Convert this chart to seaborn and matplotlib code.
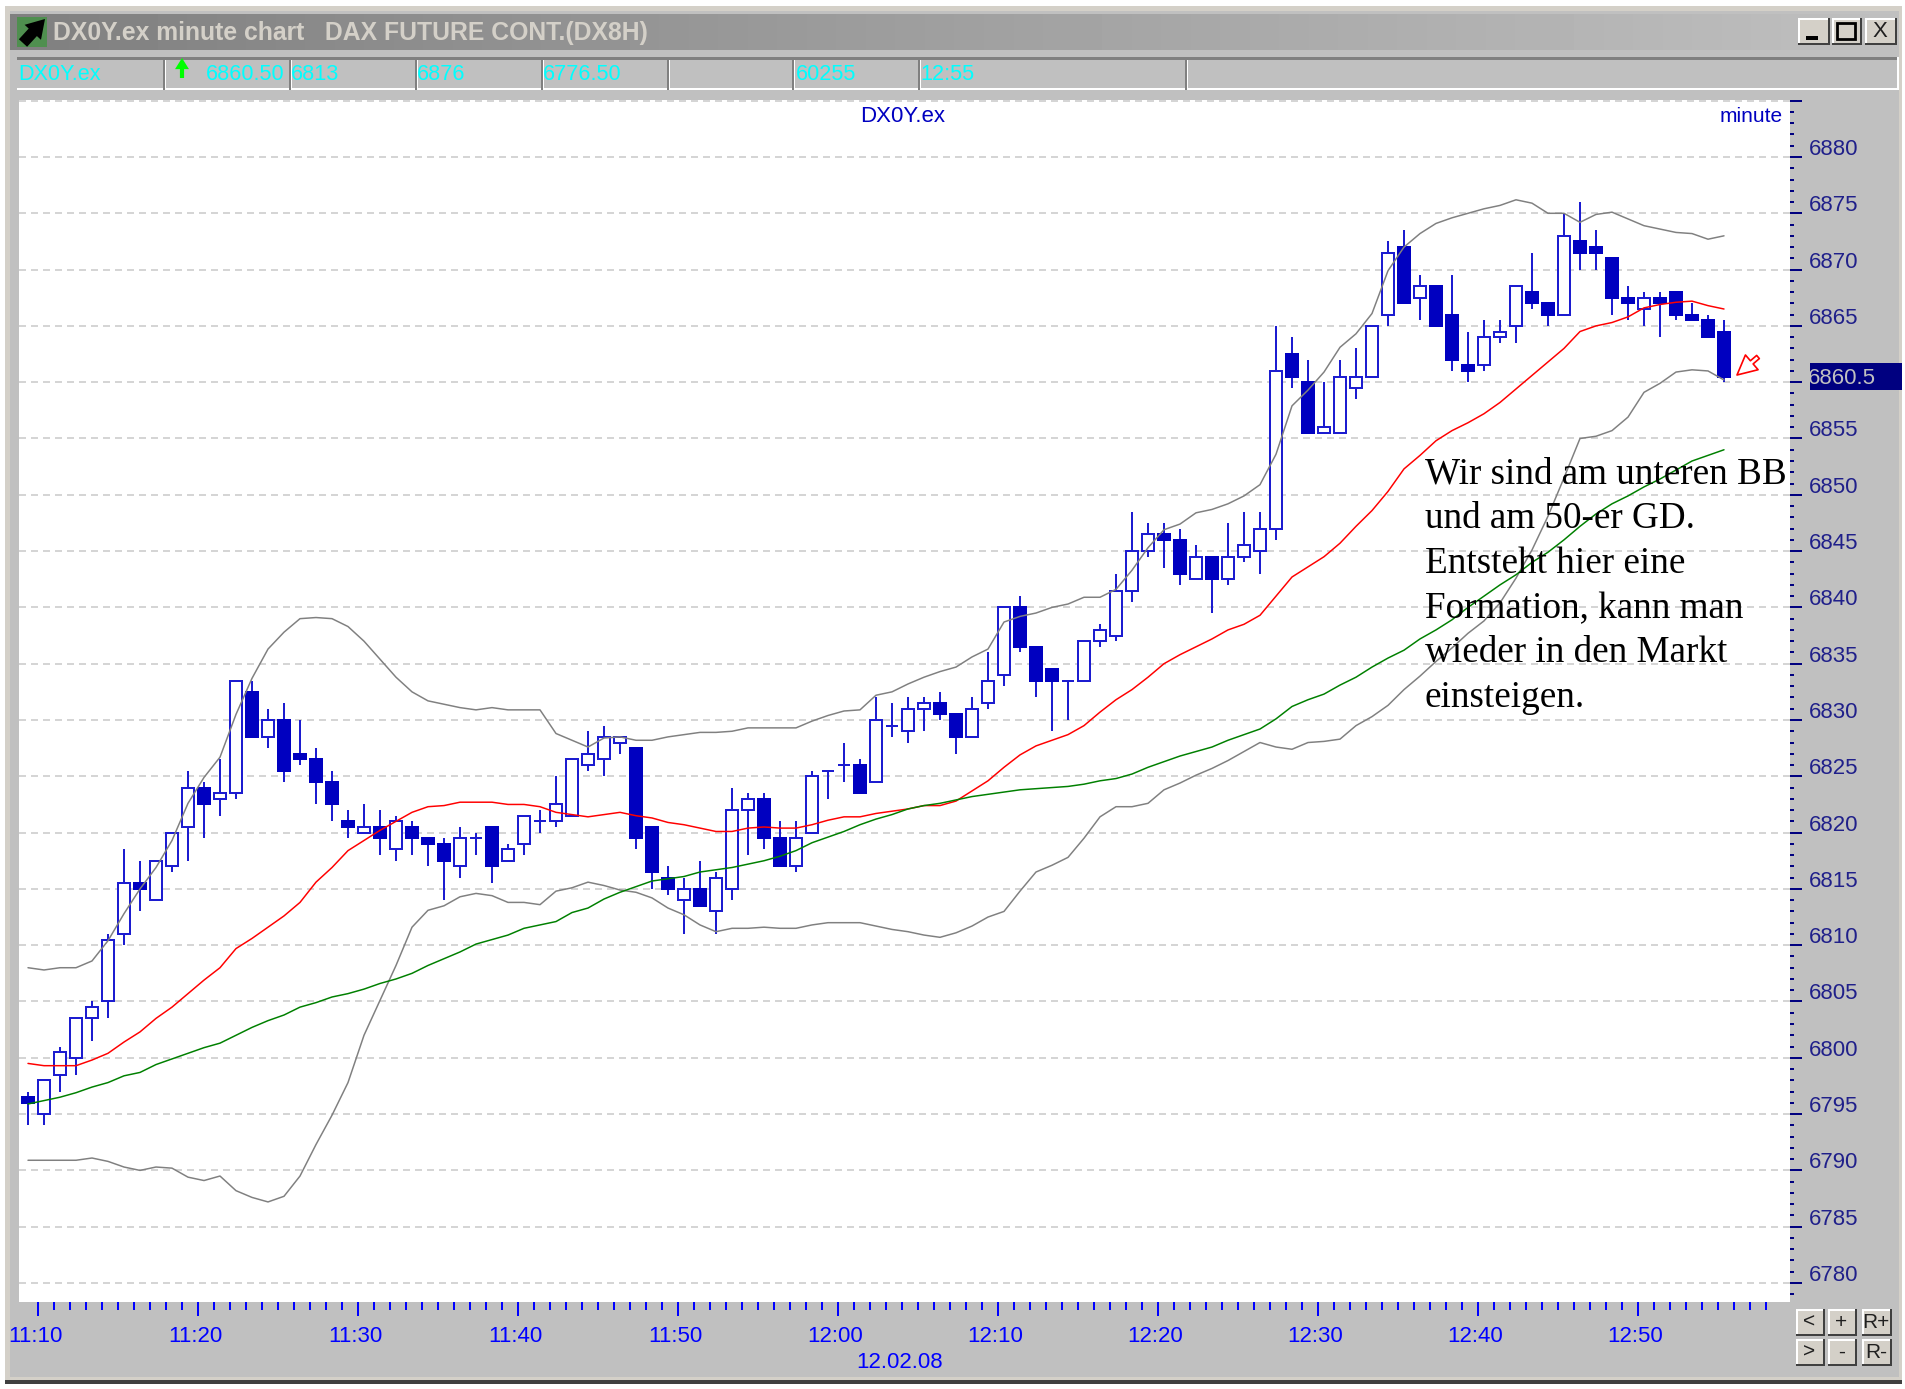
import numpy as np
import pandas as pd
import seaborn as sns
import matplotlib.pyplot as plt
from matplotlib.patches import Rectangle, FancyArrowPatch
from matplotlib.transforms import ScaledTranslation

# ==== candles (one per minute) ====
opens = [
    6796.5, 6795, 6798.5, 6800, 6803.5, 6805, 6811, 6815.5, 6814, 6817,
    6820.5, 6824, 6823, 6823.5, 6832.5, 6828.5, 6830, 6827, 6826.5, 6824.5,
    6821, 6820, 6820.5, 6818.5, 6820.5, 6819.5, 6819, 6817, 6819.5, 6820.5,
    6817.5, 6819, 6821, 6821, 6821.5, 6826, 6826.5, 6828, 6827.5, 6820.5,
    6816, 6814, 6815, 6813, 6815, 6822, 6823, 6819.5, 6817, 6820,
    6825.5, 6826, 6826, 6824.5, 6829.5, 6829, 6831, 6831.5, 6830.5, 6828.5,
    6831.5, 6834, 6840, 6836.5, 6834.5, 6833.5, 6833.5, 6837, 6837.5, 6841.5,
    6845, 6846.5, 6846, 6842.5, 6844.5, 6842.5, 6844.5, 6845, 6847, 6862.5,
    6860, 6855.5, 6855.5, 6859.5, 6860.5, 6866, 6872, 6867.5, 6868.5, 6866,
    6861.5, 6861.5, 6864, 6865, 6868, 6867, 6866, 6872.5, 6872, 6871,
    6867.5, 6866.5, 6867.5, 6868, 6866, 6865.5, 6864.5,
]
highs = [
    6797, 6798, 6801, 6803.5, 6805, 6811, 6818.5, 6817.5, 6817.5, 6820,
    6825.5, 6824.5, 6826.5, 6833.5, 6833.5, 6831, 6831.5, 6830, 6827.5, 6825.5,
    6822, 6822.5, 6822, 6821.5, 6821, 6819.5, 6819.5, 6820.5, 6820, 6820.5,
    6819, 6821.5, 6822, 6825, 6826.5, 6829, 6829.5, 6828.5, 6827.5, 6820.5,
    6817, 6816, 6817.5, 6816.5, 6824, 6823.5, 6823.5, 6821, 6821, 6825.5,
    6825.5, 6828, 6826.5, 6832, 6831.5, 6832, 6832, 6832.5, 6830.5, 6832,
    6836, 6840, 6841, 6836.5, 6834.5, 6833.5, 6837, 6838.5, 6843, 6848.5,
    6847.5, 6847.5, 6847, 6845.5, 6844.5, 6847.5, 6848.5, 6848.5, 6865, 6864,
    6862, 6860, 6862, 6863, 6865, 6872.5, 6873.5, 6869.5, 6868.5, 6869.5,
    6864.5, 6865.5, 6865.5, 6868.5, 6871.5, 6867, 6875, 6876, 6873.5, 6871,
    6868.5, 6868, 6868, 6868, 6867, 6866, 6865.5,
]
lows = [
    6794, 6794, 6797, 6798.5, 6801.5, 6803.5, 6810, 6813, 6814, 6816.5,
    6817.5, 6819.5, 6821.5, 6823, 6828.5, 6827.5, 6824.5, 6826, 6822.5, 6821,
    6819.5, 6820, 6818, 6817.5, 6818, 6817, 6814, 6816, 6818, 6815.5,
    6817.5, 6818, 6820, 6820.5, 6821.5, 6825.5, 6825, 6827, 6818.5, 6815,
    6814.5, 6811, 6813.5, 6811, 6814, 6818, 6818.5, 6817, 6816.5, 6820,
    6823, 6824.5, 6823.5, 6824.5, 6828.5, 6828, 6829, 6830, 6827, 6828.5,
    6831, 6833, 6836, 6832, 6829, 6830, 6833.5, 6836.5, 6837, 6840.5,
    6844.5, 6843.5, 6842, 6842.5, 6839.5, 6842, 6844, 6843, 6846, 6859.5,
    6855.5, 6855.5, 6855.5, 6858.5, 6860.5, 6865, 6867, 6865.5, 6865, 6861,
    6860, 6861, 6863.5, 6863.5, 6866.5, 6865, 6866, 6870, 6870, 6866,
    6865.5, 6865, 6864, 6865.5, 6865.5, 6864, 6860,
]
closes = [
    6796, 6798, 6800.5, 6803.5, 6804.5, 6810.5, 6815.5, 6815, 6817.5, 6820,
    6824, 6822.5, 6823.5, 6833.5, 6828.5, 6830, 6825.5, 6826.5, 6824.5, 6822.5,
    6820.5, 6820.5, 6819.5, 6821, 6819.5, 6819, 6817.5, 6819.5, 6819.5, 6817,
    6818.5, 6821.5, 6821, 6822.5, 6826.5, 6827, 6828.5, 6828.5, 6819.5, 6816.5,
    6815, 6815, 6813.5, 6816, 6822, 6823, 6819.5, 6817, 6819.5, 6825,
    6825.5, 6826, 6823.5, 6830, 6829.5, 6831, 6831.5, 6830.5, 6828.5, 6831,
    6833.5, 6840, 6836.5, 6833.5, 6833.5, 6833.5, 6837, 6838, 6841.5, 6845,
    6846.5, 6846, 6843, 6844.5, 6842.5, 6844.5, 6845.5, 6847, 6861, 6860.5,
    6855.5, 6856, 6860.5, 6860.5, 6865, 6871.5, 6867, 6868.5, 6865, 6862,
    6861, 6864, 6864.5, 6868.5, 6867, 6866, 6873, 6871.5, 6871.5, 6867.5,
    6867, 6867.5, 6867, 6866, 6865.5, 6864, 6860.5,
]

# ==== indicator lines ====
ma_red = [
    6799.5, 6799.3, 6799.3, 6799.3, 6799.8, 6800.4, 6801.4, 6802.3, 6803.5, 6804.5,
    6805.7, 6806.9, 6808, 6809.7, 6810.6, 6811.6, 6812.6, 6813.8, 6815.6, 6816.9,
    6818.4, 6819.3, 6820.2, 6821, 6821.8, 6822.3, 6822.4, 6822.7, 6822.7, 6822.7,
    6822.5, 6822.5, 6822.3, 6821.8, 6821.6, 6821.4, 6821.6, 6821.8, 6821.5, 6821.3,
    6820.9, 6820.7, 6820.4, 6820.1, 6820.1, 6820.4, 6820.5, 6820.4, 6820.4, 6820.7,
    6821.1, 6821.4, 6821.4, 6821.7, 6821.9, 6822.1, 6822.4, 6822.4, 6822.8, 6823.7,
    6824.6, 6825.8, 6826.9, 6827.7, 6828.2, 6828.7, 6829.5, 6830.7, 6831.8, 6832.7,
    6833.8, 6835, 6835.8, 6836.5, 6837.2, 6838, 6838.5, 6839.3, 6841, 6842.7,
    6843.6, 6844.5, 6845.7, 6847.2, 6848.6, 6850.3, 6852.3, 6853.5, 6854.8, 6855.7,
    6856.4, 6857.2, 6858.2, 6859.4, 6860.6, 6861.8, 6863, 6864.5, 6865, 6865.3,
    6865.8, 6866.6, 6866.9, 6867.1, 6867.2, 6866.8, 6866.5,
]
ma_green = [
    6795.9, 6796.2, 6796.5, 6796.9, 6797.4, 6797.8, 6798.4, 6798.7, 6799.4, 6799.9,
    6800.4, 6800.9, 6801.3, 6802, 6802.7, 6803.3, 6803.8, 6804.5, 6804.9, 6805.4,
    6805.7, 6806.1, 6806.6, 6807, 6807.5, 6808.2, 6808.8, 6809.4, 6810.1, 6810.5,
    6810.9, 6811.5, 6811.8, 6812.1, 6812.9, 6813.3, 6814.1, 6814.7, 6815.2, 6815.7,
    6815.9, 6816.1, 6816.5, 6816.7, 6816.9, 6817.2, 6817.5, 6817.9, 6818.4, 6819.1,
    6819.6, 6820.1, 6820.7, 6821.2, 6821.6, 6822.1, 6822.4, 6822.6, 6822.9, 6823.2,
    6823.4, 6823.6, 6823.8, 6823.9, 6824, 6824.1, 6824.3, 6824.6, 6824.8, 6825.2,
    6825.8, 6826.3, 6826.8, 6827.2, 6827.6, 6828.2, 6828.7, 6829.2, 6830.1, 6831.2,
    6831.8, 6832.3, 6833.1, 6833.8, 6834.7, 6835.5, 6836.2, 6837.2, 6838, 6838.9,
    6840, 6841, 6842, 6842.9, 6844, 6844.9, 6846, 6847.2, 6848.3, 6849.2,
    6849.9, 6850.7, 6851.4, 6852.2, 6853, 6853.5, 6854,
]
bb_upper = [
    6808, 6807.8, 6808, 6808, 6808.6, 6810.4, 6812.8, 6815, 6816.9, 6819.3,
    6822.6, 6824.9, 6826.7, 6830.5, 6833.7, 6836.3, 6837.8, 6839, 6839.1, 6839,
    6838.3, 6837, 6835.4, 6833.8, 6832.5, 6831.7, 6831.4, 6831.1, 6830.9, 6831.1,
    6830.9, 6830.9, 6830.9, 6828.8, 6828.2, 6827.6, 6828.4, 6828.5, 6828.2, 6828.2,
    6828.5, 6828.7, 6828.9, 6828.9, 6829, 6829.3, 6829.3, 6829.3, 6829.3, 6829.9,
    6830.4, 6830.8, 6830.9, 6832.2, 6832.5, 6833.2, 6833.8, 6834.3, 6834.7, 6835.6,
    6836.3, 6838.7, 6839.2, 6839.5, 6840, 6840.3, 6840.9, 6840.9, 6841.6, 6843.3,
    6845.3, 6846.9, 6847.4, 6848.4, 6848.7, 6849.2, 6849.9, 6850.9, 6853.6, 6857.9,
    6859.3, 6860.9, 6863.1, 6864.3, 6866.1, 6869.9, 6872, 6873.2, 6874.1, 6874.6,
    6875, 6875.4, 6875.7, 6876.2, 6875.9, 6875, 6875, 6874.2, 6874.9, 6875.1,
    6874.5, 6873.9, 6873.6, 6873.3, 6873.2, 6872.7, 6873,
]
bb_lower = [
    6790.9, 6790.9, 6790.9, 6790.9, 6791.1, 6790.8, 6790.3, 6790, 6790.3, 6790.2,
    6789.4, 6789.1, 6789.5, 6788.2, 6787.6, 6787.2, 6787.7, 6789.5, 6792.3, 6794.9,
    6797.8, 6802, 6805.1, 6808.2, 6811.6, 6813.1, 6813.5, 6814.3, 6814.6, 6814.4,
    6813.8, 6813.8, 6813.6, 6814.8, 6815.1, 6815.6, 6815.3, 6814.9, 6814.7, 6814.2,
    6813.3, 6812.7, 6811.8, 6811.2, 6811.5, 6811.5, 6811.6, 6811.5, 6811.5, 6811.8,
    6812, 6812, 6812, 6811.7, 6811.4, 6811.2, 6810.9, 6810.7, 6811.1, 6811.7,
    6812.5, 6813, 6814.8, 6816.5, 6817.1, 6817.8, 6819.5, 6821.4, 6822.3, 6822.3,
    6822.6, 6823.8, 6824.4, 6825.1, 6825.7, 6826.4, 6827.2, 6828, 6827.6, 6827.4,
    6828, 6828.1, 6828.3, 6829.5, 6830.3, 6831.3, 6832.7, 6833.9, 6835.2, 6836.4,
    6837.7, 6838.8, 6840.4, 6842.6, 6845.1, 6848.1, 6851.5, 6855, 6855.2, 6855.7,
    6856.9, 6859.1, 6859.9, 6860.9, 6861.1, 6861, 6860.2,
]

# ==== axis labels and texts ====
price_ticks = [6780, 6785, 6790, 6795, 6800, 6805, 6810, 6815, 6820, 6825, 6830,
               6835, 6840, 6845, 6850, 6855, 6860, 6865, 6870, 6875, 6880, 6885]
# 6860 sits under the last-price box and 6885 has no label in the program
price_labels = ["" if p in (6860, 6885) else str(p) for p in price_ticks]
time_labels = ["11:10", "11:20", "11:30", "11:40", "11:50", "12:00",
               "12:10", "12:20", "12:30", "12:40", "12:50"]
note_lines = ["Wir sind am unteren BB", "und am 50-er GD.", "Entsteht hier eine",
              "Formation, kann man", "wieder in den Markt", "einsteigen."]
title_text = "DX0Y.ex minute chart   DAX FUTURE CONT.(DX8H)"
status_cells = [("DX0Y.ex", 18), ("6860.50", 206), ("6813", 291), ("6876", 417),
                ("6776.50", 543), ("60255", 796), ("12:55", 920)]

W, H = 1905, 1389
LEFT, RIGHT, TOP, BOTTOM = 19, 1790, 100, 1302
GREY, FACE = "#C0C0C0", "#D4D0C8"
BODY = "#0000C0"
EDGE = "#1C1CD0"
PX = 0.72  # points per pixel at dpi 100

sns.set_theme(style="white")
plt.rcParams["font.family"] = ["Liberation Sans", "DejaVu Sans"]
plt.rcParams["lines.scale_dashes"] = False

df = pd.DataFrame({"minute": np.arange(len(opens)), "open": opens, "high": highs, "low": lows,
                   "close": closes, "ma_red": ma_red, "ma_green": ma_green,
                   "bb_upper": bb_upper, "bb_lower": bb_lower})
df["up"] = df["close"] >= df["open"]

fig = plt.figure(figsize=(W / 100, H / 100), dpi=100, facecolor="white")


def px_axes(zorder):
    a = fig.add_axes([0, 0, 1, 1], zorder=zorder)
    a.set_xlim(0, W)
    a.set_ylim(H, 0)
    a.axis("off")
    return a


def box(a, x0, y0, x1, y1, color, z=1, **kw):
    a.add_patch(Rectangle((x0, y0), x1 - x0, y1 - y0, facecolor=color, edgecolor="none", zorder=z, **kw))


def button(a, x0, y0, x1, y1, label=None, size=13):
    box(a, x0, y0, x1, y1, "#404040", z=5)
    box(a, x0, y0, x1 - 2, y1 - 2, "white", z=5)
    box(a, x0 + 2, y0 + 2, x1 - 2, y1 - 2, FACE, z=5)
    if label:
        a.text((x0 + x1) / 2 - 1, (y0 + y1) / 2, label, fontsize=size, ha="center", va="center",
               color="#202020", zorder=6)


# ==== window chrome ====
bg = px_axes(0)
box(bg, 5, 6, 1902, 1381, FACE)
box(bg, 5, 1380, 1902, 1384, "#404040")
box(bg, 10, 11, 1899, 1377, GREY)
bg.imshow(np.linspace(0.50, 0.75, 256)[None, :], cmap="gray", vmin=0, vmax=1, aspect="auto",
          extent=(10, 1899, 50, 14), zorder=2)
bg.set_xlim(0, W)
bg.set_ylim(H, 0)
box(bg, 17, 17, 47, 47, "#4F8F4F", z=3)
bg.add_patch(FancyArrowPatch((23, 43), (45, 19), arrowstyle="simple,head_width=16,head_length=13,tail_width=8",
                             color="black", lw=0, zorder=4, shrinkA=0, shrinkB=0))
bg.text(53, 33, title_text, color=FACE, fontsize=17.8, fontweight="bold", va="center", zorder=4)

box(bg, 17, 57, 1899, 90, "white")
box(bg, 17, 57, 1897, 60, "#808080")
box(bg, 17, 60, 1897, 88, GREY)
for x in [163, 289, 415, 541, 667, 792, 918, 1185]:
    box(bg, x, 57, x + 1.5, 90, "#808080", z=2)
    box(bg, x + 1.5, 60, x + 3, 90, "white", z=2)
for label, x in status_cells:
    bg.text(x, 75, label, color="#00FFFF", fontsize=15.6, va="center", zorder=3)
bg.add_patch(FancyArrowPatch((182, 78), (182, 58), arrowstyle="simple,head_width=10,head_length=8,tail_width=3",
                             color="#00FF00", lw=0, zorder=3, shrinkA=0, shrinkB=0))

button(bg, 1798, 18, 1830, 45)
box(bg, 1806, 36, 1818, 40, "black", z=6)
button(bg, 1832, 18, 1862, 45)
bg.add_patch(Rectangle((1837, 23), 18, 16, facecolor="none", edgecolor="black", lw=2, zorder=6))
button(bg, 1865, 18, 1897, 45, "X", 16)

for row, (y0, y1, labels) in enumerate([(1309, 1336, ["<", "+", "R+"]), (1339, 1366, [">", "-", "R-"])]):
    for (x0, x1), label in zip([(1796, 1825), (1828, 1857), (1862, 1892)], labels):
        button(bg, x0, y0, x1, y1, label, 15)
bg.text(900, 1363, "12.02.08", color="#0000FF", fontsize=16, ha="center", va="center")

# ==== chart ====
ax = fig.add_axes([LEFT / W, 1 - BOTTOM / H, (RIGHT - LEFT) / W, (BOTTOM - TOP) / H], zorder=1)
ax.set_facecolor("white")
for s in ax.spines.values():
    s.set_visible(False)

ax.vlines(df["minute"], df["low"], df["high"], color=EDGE, lw=2 * PX, zorder=2)
up, down = df[df["up"]], df[~df["up"]]
ax.bar(down["minute"], down["close"] - down["open"], bottom=down["open"], width=0.69,
       facecolor=BODY, edgecolor=BODY, lw=2 * PX, zorder=3)
ax.bar(up["minute"], up["close"] - up["open"], bottom=up["open"], width=0.69,
       facecolor="white", edgecolor=EDGE, lw=2 * PX, zorder=3)

for col, color in [("bb_upper", "#808080"), ("bb_lower", "#808080"), ("ma_red", "#FF0000"), ("ma_green", "#008000")]:
    sns.lineplot(data=df, x="minute", y=col, color=color, lw=1.5 * PX, estimator=None, errorbar=None,
                 legend=False, ax=ax, zorder=4)

ax.set_xlim((LEFT - 28) / 16, (RIGHT - 28) / 16)
ax.set_ylim(6880 - (BOTTOM - 157) / 11.26, 6880 - (TOP - 157) / 11.26)
ax.set_xlabel("")
ax.set_ylabel("")

# the minute ticks sit a little left of the candles, as in the charting program
tick_offset = 0.6
ax.set_xticks([tick_offset + 10 * k for k in range(len(time_labels))], time_labels)
ax.set_xticks([tick_offset + k for k in range(109)], minor=True)
ax.tick_params(axis="x", which="major", bottom=True, direction="out", length=14 * PX, width=2 * PX,
               color="#0000FF", labelcolor="#0000FF", labelsize=16, pad=9.5 * PX)
ax.tick_params(axis="x", which="minor", bottom=True, direction="out", length=8 * PX, width=2 * PX, color="#0000FF")
for lab in ax.get_xticklabels():
    lab.set_transform(lab.get_transform() + ScaledTranslation(-0.02, 0, fig.dpi_scale_trans))

ax.yaxis.tick_right()
ax.set_yticks(price_ticks, price_labels)
ax.set_yticks(np.arange(6779, 6885), minor=True)
ax.tick_params(axis="y", which="major", right=True, direction="out", length=12 * PX, width=2 * PX,
               color="#000080", labelcolor="#20208A", labelsize=16, pad=7 * PX)
ax.tick_params(axis="y", which="minor", right=True, direction="out", length=4 * PX, width=2 * PX, color="#000080")
for lab in ax.get_yticklabels():
    lab.set_verticalalignment("baseline")
    lab.set_transform(lab.get_transform() + ScaledTranslation(0, 0.02, fig.dpi_scale_trans))
ax.grid(axis="y", which="major", color="#C8C8C8", lw=1.5 * PX, ls=(0, (7 * PX, 5 * PX)), zorder=1)
ax.set_axisbelow(True)

# ==== texts over the chart ====
top = px_axes(2)
top.text(903, 117, "DX0Y.ex", color="#0000C0", fontsize=16, ha="center", va="center")
top.text(1783, 117, "minute", color="#0000C0", fontsize=15, ha="right", va="center")
box(top, 1810, 363, 1902, 390, "#000080")
top.text(1808, 378, "6860.5", color=GREY, fontsize=16, va="center", zorder=3,
         clip_on=True, clip_path=Rectangle((1810, 363), 92, 27, transform=top.transData))
top.add_patch(FancyArrowPatch((1758, 357), (1737, 375), arrowstyle="simple,head_width=14,head_length=14,tail_width=3",
                              facecolor="white", edgecolor="#FF0000", lw=1.2, zorder=3, shrinkA=0, shrinkB=0))
for line, y in zip(note_lines, [484, 528.5, 573, 618, 662, 707]):
    top.text(1425, y, line, color="black", fontsize=26.7, family=["Liberation Serif", "DejaVu Serif"], va="baseline")

fig.savefig("out.png", dpi=100, facecolor="white")
